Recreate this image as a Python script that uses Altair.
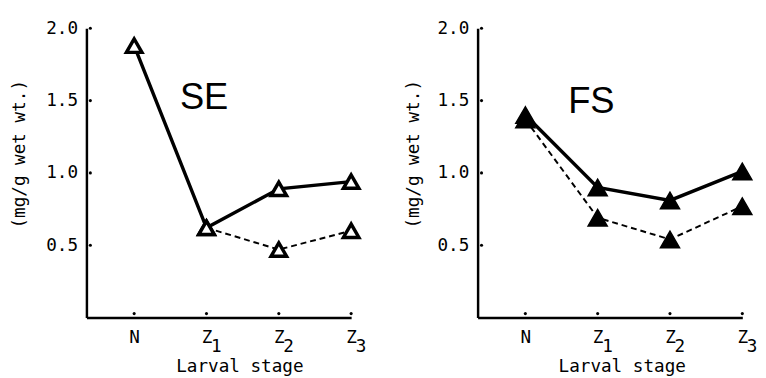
import json
import altair as alt
import pandas as pd

# ---- data ----
stages = ["N", "Z1", "Z2", "Z3"]
stage_main = ["N", "Z", "Z", "Z"]
stage_sub = ["", "1", "2", "3"]
y_ticks = [0.5, 1.0, 1.5, 2.0]
panels = ["SE", "FS"]

se_solid = [1.88, 0.62, 0.89, 0.94]
se_dashed = [None, 0.62, 0.47, 0.60]
fs_solid = [1.40, 0.90, 0.81, 1.01]
fs_dashed = [1.37, 0.69, 0.54, 0.77]

W, H = 270, 295
FONT = "DejaVu Sans Mono"
FS_ = 18


def long_df(solid, dashed):
    rows = []
    for i, s in enumerate(stages):
        if solid[i] is not None:
            rows.append({"idx": i, "stage": s, "value": solid[i], "series": "solid"})
        if dashed[i] is not None:
            rows.append({"idx": i, "stage": s, "value": dashed[i], "series": "dashed"})
    return pd.DataFrame(rows)


def panel(name, solid, dashed, filled, ytitle_x, xtitle_x, label_x, label_y):
    df = long_df(solid, dashed)
    label_expr = json.dumps(stage_main) + "[datum.value]"
    xenc = alt.X(
        "idx:Q",
        scale=alt.Scale(domain=[-0.66, 3], nice=False, zero=False),
        axis=alt.Axis(
            values=[0, 1, 2, 3], labelExpr=label_expr, ticks=False, grid=False,
            title="Larval stage", labelPadding=11, labelBaseline="top",
            titleX=xtitle_x, titleY=41, titleBaseline="top", titleAnchor="start",
            titleAlign="center", labelFlush=False,
        ),
    )
    yenc = alt.Y(
        "value:Q",
        scale=alt.Scale(domain=[0, 2], nice=False, zero=True),
        axis=alt.Axis(
            values=y_ticks, format=".1f", ticks=False, grid=False,
            title="(mg/g wet wt.)", labelPadding=9, titleX=ytitle_x, titleY=128,
            titleAngle=270, titleAlign="center", titleBaseline="middle",
            labelFlush=False,
        ),
    )
    base = alt.Chart(df)
    solid_line = base.transform_filter(alt.datum.series == "solid").mark_line(
        color="black", strokeWidth=3.5
    ).encode(x=xenc, y=yenc)
    dashed_line = base.transform_filter(alt.datum.series == "dashed").mark_line(
        color="black", strokeWidth=2, strokeDash=[6, 4]
    ).encode(x=xenc, y=yenc)
    if filled:
        pts = base.mark_point(shape="triangle-up", filled=True, fill="black",
                              stroke="black", strokeWidth=1.5, size=380, opacity=1)
    else:
        pts = base.mark_point(shape="triangle-up", filled=True, fill="white",
                              stroke="black", strokeWidth=3.5, size=250, opacity=1)
    pts = pts.encode(x=xenc, y=yenc)

    xt = alt.Chart(pd.DataFrame({"idx": list(range(len(stages)))})).mark_point(
        shape="circle", filled=True, color="black", size=10, opacity=1
    ).encode(x=xenc, y=alt.value(H - 4))
    yt = alt.Chart(pd.DataFrame({"value": y_ticks})).mark_point(
        shape="circle", filled=True, color="black", size=10, opacity=1
    ).encode(x=alt.value(4), y=yenc)

    subs = alt.Chart(pd.DataFrame({"idx": list(range(len(stages))), "sub": stage_sub})).mark_text(
        font=FONT, fontSize=FS_, color="black", dx=10, baseline="middle"
    ).encode(x=xenc, y=alt.value(H + 30), text="sub:N")

    lab = alt.Chart(pd.DataFrame({"t": [name]})).mark_text(
        font="Liberation Sans", fontSize=37, color="black", align="center", baseline="middle"
    ).encode(x=alt.value(label_x), y=alt.value(label_y), text="t:N")

    return alt.layer(dashed_line, solid_line, pts, xt, yt, subs, lab).properties(width=W, height=H)


left = panel(panels[0], se_solid, se_dashed, False, -68, 156, 120, 71)
right = panel(panels[1], fs_solid, fs_dashed, True, -65, 147, 116, 75)

chart = alt.hconcat(left, right, spacing=129, bounds="flush").properties(
    padding={"left": 3, "top": 8, "right": 0, "bottom": 0}
).configure_view(stroke=None).configure_axis(
    domainColor="black", domainWidth=2.5, labelFont=FONT, labelFontSize=FS_,
    labelColor="black", titleFont=FONT, titleFontSize=FS_, titleFontWeight="normal",
    titleColor="black",
)

chart.save("out.html", embed_options={"renderer": "svg", "actions": False})
